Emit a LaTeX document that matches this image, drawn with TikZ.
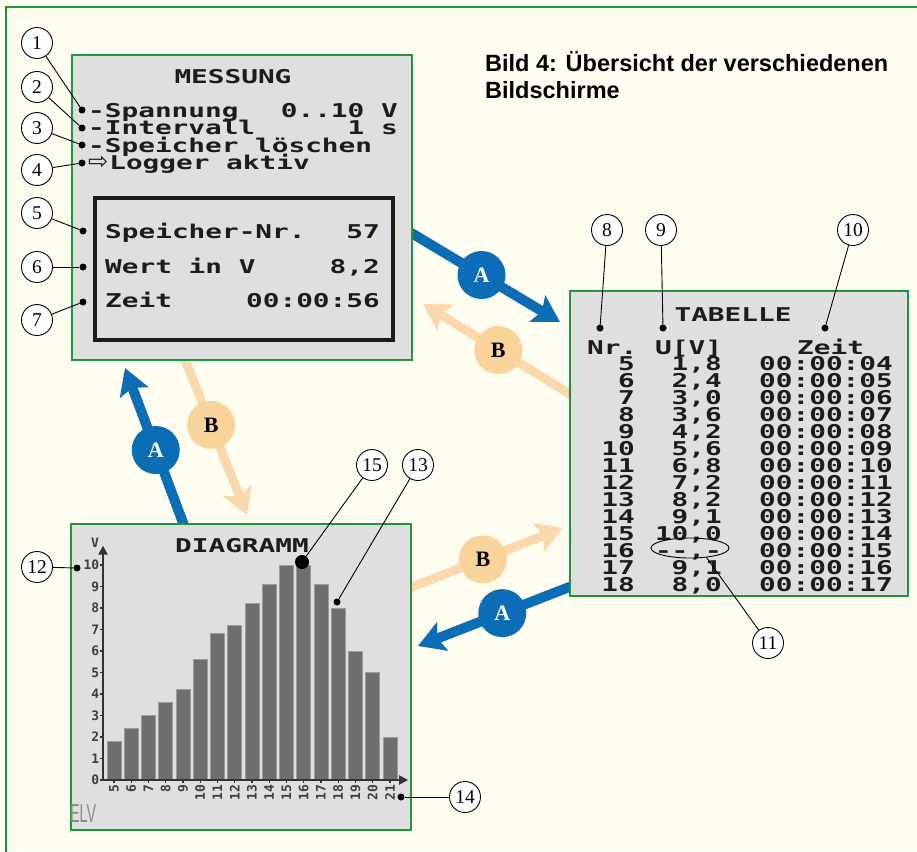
\documentclass[tikz,border=0pt]{standalone}
\usepackage{fontspec}
\usepackage{graphicx}
\setmainfont{Liberation Serif}
\newfontfamily\lcdfont[FakeStretch=1.46]{DejaVu Sans Mono}
\newfontfamily\lcdnarrow{DejaVu Sans Mono}
\newfontfamily\arrowfont{DejaVu Sans}
\newfontfamily\headfont{Liberation Sans}
\usetikzlibrary{arrows.meta,shapes.geometric}

\definecolor{paper}{HTML}{FFFDEF}
\definecolor{frame}{HTML}{1E963C}
\definecolor{lcdgray}{HTML}{DFDFDF}
\definecolor{lcdink}{HTML}{1C1C1C}
\definecolor{ablue}{HTML}{0B6DB5}
\definecolor{bline}{HTML}{FAD8AE}
\definecolor{bcirc}{HTML}{F9D49A}
\definecolor{barfill}{HTML}{6E6E6E}
\definecolor{baredge}{HTML}{9C9C9C}

\tikzset{
  screen/.style={fill=lcdgray, draw=frame, line width=2.5pt},
  lcd/.style={inner sep=0pt, text height=13.5pt, text depth=1pt, text=lcdink,
    font=\lcdfont\bfseries\fontsize{19}{19}\selectfont},
  lcdL/.style={lcd, anchor=base west},
  lcdR/.style={lcd, anchor=base east},
  axlab/.style={inner sep=0pt, text=lcdink!85, font=\lcdnarrow\bfseries\fontsize{13}{13}\selectfont},
  num/.style={circle, draw, fill=white, line width=0.9pt, minimum size=31pt, inner sep=0pt,
    font=\fontsize{19.5}{19.5}\selectfont},
  dot/.style={circle, fill=black, minimum size=7pt, inner sep=0pt},
  lead/.style={line width=0.9pt},
  arrA/.style={line width=10pt, draw=ablue, -{Stealth[length=26pt,width=30pt,inset=5pt]}},
  arrB/.style={line width=9pt, draw=bline, -{Stealth[length=26pt,width=30pt,inset=5pt]}},
  circA/.style={circle, fill=ablue, minimum size=48pt, inner sep=0pt, text=white,
    font=\bfseries\fontsize{22}{22}\selectfont},
  circB/.style={circle, fill=bcirc, minimum size=48pt, inner sep=0pt, text=black,
    font=\bfseries\fontsize{22}{22}\selectfont},
  bar/.style={fill=barfill, draw=baredge, line width=0.8pt},
  axis/.style={draw=lcdink!90, line width=2.2pt}
}

\begin{document}
\begin{tikzpicture}[x=1pt,y=-1pt]
\useasboundingbox (0,0) rectangle (917,851);
\fill[paper] (0,0) rectangle (917,851);
\draw[frame, line width=2.5pt] (6,870) -- (6,7) -- (930,7);

% Ueberschrift
\node[anchor=base west, align=left, inner sep=0pt, font=\headfont\bfseries\fontsize{23.5}{26.5}\selectfont]
  (title) at (485,98) {Bild 4: Übersicht der verschiedenen\\Bildschirme};

% Pfeile A und B
\coordinate (a1s) at (403,228);   \coordinate (a1e) at (560,322);
\coordinate (a2s) at (577,584);   \coordinate (a2e) at (418,646);
\coordinate (a3s) at (186.5,532); \coordinate (a3e) at (125,368);
\coordinate (b1s) at (576.5,398); \coordinate (b1e) at (423,304);
\coordinate (b2s) at (402.7,590.6); \coordinate (b2e) at (563,528);
\coordinate (b3s) at (182.3,352.7); \coordinate (b3e) at (247,515);

\draw[arrB] (b1s) -- node[circB, pos=0.51] (cb1) {B} (b1e);
\draw[arrB] (b2s) -- node[circB, pos=0.50] (cb2) {B} (b2e);
\draw[arrB] (b3s) -- node[circB, pos=0.445] (cb3) {B} (b3e);
\draw[arrA] (a1s) -- node[circA, pos=0.50] (ca1) {A} (a1e);
\draw[arrA] (a2s) -- node[circA, pos=0.47] (ca2) {A} (a2e);
\draw[arrA] (a3s) -- node[circA, pos=0.50] (ca3) {A} (a3e);

% Bildschirm MESSUNG
\draw[screen] (72,55) rectangle (412,360);
\node[lcd, anchor=base] (mess) at (233,83) {MESSUNG};
\node[lcdL] (l1) at (88,117) {-Spannung};
\node[lcdR] (v1) at (398,117) {0..10 V};
\node[lcdL] (l2) at (88,134.5) {-Intervall};
\node[lcdR] (v2) at (398,134.5) {1 s};
\node[lcdL] (l3) at (88,152) {-Speicher löschen};
\node[lcdL] (l4) at (88,169.5) {{\arrowfont\mdseries\fontsize{24}{24}\selectfont ⇨}\hspace{1pt}Logger aktiv};
\draw[line width=4.5pt, draw=lcdink] (95,198) rectangle (393,340);
\node[lcdL] (l5) at (105,238) {Speicher-Nr.};
\node[lcdR] (v5) at (380,238) {57};
\node[lcdL] (l6) at (105,273) {Wert in V};
\node[lcdR] (v6) at (380,273) {8,2};
\node[lcdL] (l7) at (105,307) {Zeit};
\node[lcdR] (v7) at (380,307) {00:00:56};

% Bildschirm TABELLE
\draw[screen] (570,291) rectangle (908,596);
\node[lcd, anchor=base] (tab) at (733,321) {TABELLE};
\node[lcdL] (hnr) at (587,354) {Nr.};
\node[lcdL] (hu) at (655,354) {U[V]};
\node[lcdL] (hz) at (797,354) {Zeit};

\node[lcdR] (r5n) at (635,370) {5};   \node[lcdR] (r5u) at (722,370) {1,8};  \node[lcdR] (r5z) at (893,370) {00:00:04};
\node[lcdR] (r6n) at (635,387) {6};   \node[lcdR] (r6u) at (722,387) {2,4};  \node[lcdR] (r6z) at (893,387) {00:00:05};
\node[lcdR] (r7n) at (635,404) {7};   \node[lcdR] (r7u) at (722,404) {3,0};  \node[lcdR] (r7z) at (893,404) {00:00:06};
\node[lcdR] (r8n) at (635,421) {8};   \node[lcdR] (r8u) at (722,421) {3,6};  \node[lcdR] (r8z) at (893,421) {00:00:07};
\node[lcdR] (r9n) at (635,438) {9};   \node[lcdR] (r9u) at (722,438) {4,2};  \node[lcdR] (r9z) at (893,438) {00:00:08};
\node[lcdR] (r10n) at (635,455) {10}; \node[lcdR] (r10u) at (722,455) {5,6}; \node[lcdR] (r10z) at (893,455) {00:00:09};
\node[lcdR] (r11n) at (635,472) {11}; \node[lcdR] (r11u) at (722,472) {6,8}; \node[lcdR] (r11z) at (893,472) {00:00:10};
\node[lcdR] (r12n) at (635,489) {12}; \node[lcdR] (r12u) at (722,489) {7,2}; \node[lcdR] (r12z) at (893,489) {00:00:11};
\node[lcdR] (r13n) at (635,506) {13}; \node[lcdR] (r13u) at (722,506) {8,2}; \node[lcdR] (r13z) at (893,506) {00:00:12};
\node[lcdR] (r14n) at (635,523) {14}; \node[lcdR] (r14u) at (722,523) {9,1}; \node[lcdR] (r14z) at (893,523) {00:00:13};
\node[lcdR] (r15n) at (635,540) {15}; \node[lcdR] (r15u) at (722,540) {10,0}; \node[lcdR] (r15z) at (893,540) {00:00:14};
\node[lcdR] (r16n) at (635,557) {16}; \node[lcdR] (r16u) at (722,557) {--,-}; \node[lcdR] (r16z) at (893,557) {00:00:15};
\node[lcdR] (r17n) at (635,574) {17}; \node[lcdR] (r17u) at (722,574) {9,1}; \node[lcdR] (r17z) at (893,574) {00:00:16};
\node[lcdR] (r18n) at (635,591) {18}; \node[lcdR] (r18u) at (722,591) {8,0}; \node[lcdR] (r18z) at (893,591) {00:00:17};
\node[ellipse, draw, line width=0.9pt, minimum width=78pt, minimum height=20pt, inner sep=0pt] (e11) at (690,548) {};

% Bildschirm DIAGRAMM
\draw[screen] (71,524) rectangle (411,830);
\node[lcd, anchor=base] (diag) at (242,552) {DIAGRAMM};
\node[anchor=base west, inner sep=0pt, text=black!45,
  font=\headfont\fontsize{26}{26}\selectfont] (elv) at (70,822) {\scalebox{0.55}[1]{ELV}};
\begin{scope}[shift={(27.75,780)}, x=17.25pt, y=21.5pt]
\fill[bar] (4.6,0) rectangle (5.4,1.8);
\fill[bar] (5.6,0) rectangle (6.4,2.4);
\fill[bar] (6.6,0) rectangle (7.4,3.0);
\fill[bar] (7.6,0) rectangle (8.4,3.6);
\fill[bar] (8.6,0) rectangle (9.4,4.2);
\fill[bar] (9.6,0) rectangle (10.4,5.6);
\fill[bar] (10.6,0) rectangle (11.4,6.8);
\fill[bar] (11.6,0) rectangle (12.4,7.2);
\fill[bar] (12.6,0) rectangle (13.4,8.2);
\fill[bar] (13.6,0) rectangle (14.4,9.1);
\fill[bar] (14.6,0) rectangle (15.4,10);
\fill[bar] (15.6,0) rectangle (16.4,10);
\fill[bar] (16.6,0) rectangle (17.4,9.1);
\fill[bar] (17.6,0) rectangle (18.4,8.0);
\fill[bar] (18.6,0) rectangle (19.4,6.0);
\fill[bar] (19.6,0) rectangle (20.4,5.0);
\fill[bar] (20.6,0) rectangle (21.4,2.0);

\draw[axis, -{Triangle[width=9pt,length=9pt]}] (4.2,0) -- (22.05,0);
\draw[axis, -{Triangle[width=9pt,length=9pt]}] (4.362,-0.05) -- (4.362,10.9);
\draw[axis, line width=1.2pt] \foreach \v in {1,...,10} {(4.2,\v) -- (4.362,\v)};
\draw[axis, line width=1.2pt] \foreach \k in {5,...,21} {(\k,0) -- (\k,-0.14)};

\node[axlab] (yv) at (3.9,11.05) {V};
\node[axlab, anchor=east] (y0) at (4.16,0) {0};
\node[axlab, anchor=east] (y1) at (4.16,1) {1};
\node[axlab, anchor=east] (y2) at (4.16,2) {2};
\node[axlab, anchor=east] (y3) at (4.16,3) {3};
\node[axlab, anchor=east] (y4) at (4.16,4) {4};
\node[axlab, anchor=east] (y5) at (4.16,5) {5};
\node[axlab, anchor=east] (y6) at (4.16,6) {6};
\node[axlab, anchor=east] (y7) at (4.16,7) {7};
\node[axlab, anchor=east] (y8) at (4.16,8) {8};
\node[axlab, anchor=east] (y9) at (4.16,9) {9};
\node[axlab, anchor=east] (y10) at (4.16,10) {10};

\node[axlab, rotate=90, anchor=east] (x5) at (5,-0.23) {5};
\node[axlab, rotate=90, anchor=east] (x6) at (6,-0.23) {6};
\node[axlab, rotate=90, anchor=east] (x7) at (7,-0.23) {7};
\node[axlab, rotate=90, anchor=east] (x8) at (8,-0.23) {8};
\node[axlab, rotate=90, anchor=east] (x9) at (9,-0.23) {9};
\node[axlab, rotate=90, anchor=east] (x10) at (10,-0.23) {10};
\node[axlab, rotate=90, anchor=east] (x11) at (11,-0.23) {11};
\node[axlab, rotate=90, anchor=east] (x12) at (12,-0.23) {12};
\node[axlab, rotate=90, anchor=east] (x13) at (13,-0.23) {13};
\node[axlab, rotate=90, anchor=east] (x14) at (14,-0.23) {14};
\node[axlab, rotate=90, anchor=east] (x15) at (15,-0.23) {15};
\node[axlab, rotate=90, anchor=east] (x16) at (16,-0.23) {16};
\node[axlab, rotate=90, anchor=east] (x17) at (17,-0.23) {17};
\node[axlab, rotate=90, anchor=east] (x18) at (18,-0.23) {18};
\node[axlab, rotate=90, anchor=east] (x19) at (19,-0.23) {19};
\node[axlab, rotate=90, anchor=east] (x20) at (20,-0.23) {20};
\node[axlab, rotate=90, anchor=east] (x21) at (21,-0.23) {21};
\end{scope}

% Markierungen
\node[dot] (d1) at (82,110) {};
\node[dot] (d2) at (82,128) {};
\node[dot] (d3) at (82,145) {};
\node[dot] (d4) at (82,163) {};
\node[dot] (d5) at (83,231) {};
\node[dot] (d6) at (83,267) {};
\node[dot] (d7) at (83,302) {};
\node[dot] (d8) at (600,328) {};
\node[dot] (d9) at (663,328) {};
\node[dot] (d10) at (825,328) {};
\node[dot] (d12) at (77,568) {};
\node[dot] (d13) at (337,602) {};
\node[dot] (d14) at (401,797) {};
\node[dot, minimum size=14pt] (d15) at (302,562) {};

\node[num] (n1) at (37,43) {1};
\node[num] (n2) at (37,87) {2};
\node[num] (n3) at (37,128) {3};
\node[num] (n4) at (37,170) {4};
\node[num] (n5) at (37,213) {5};
\node[num] (n6) at (37,267) {6};
\node[num] (n7) at (37,320) {7};
\node[num] (n8) at (607,230) {8};
\node[num] (n9) at (661,230) {9};
\node[num] (n10) at (853,230) {10};
\node[num] (n11) at (768,643) {11};
\node[num] (n12) at (37,567) {12};
\node[num] (n13) at (418,465) {13};
\node[num] (n14) at (465,797) {14};
\node[num] (n15) at (372,465) {15};

\draw[lead] (n1) -- (d1);
\draw[lead] (n2) -- (d2);
\draw[lead] (n3) -- (d3);
\draw[lead] (n4) -- (d4);
\draw[lead] (n5) -- (d5);
\draw[lead] (n6) -- (d6);
\draw[lead] (n7) -- (d7);
\draw[lead] (n8) -- (d8);
\draw[lead] (n9) -- (d9);
\draw[lead] (n10) -- (d10);
\draw[lead] (n11) -- (e11.-30);
\draw[lead] (n12) -- (d12);
\draw[lead] (n13) -- (d13);
\draw[lead] (n14) -- (d14);
\draw[lead] (n15) -- (d15);
\end{tikzpicture}
\end{document}
